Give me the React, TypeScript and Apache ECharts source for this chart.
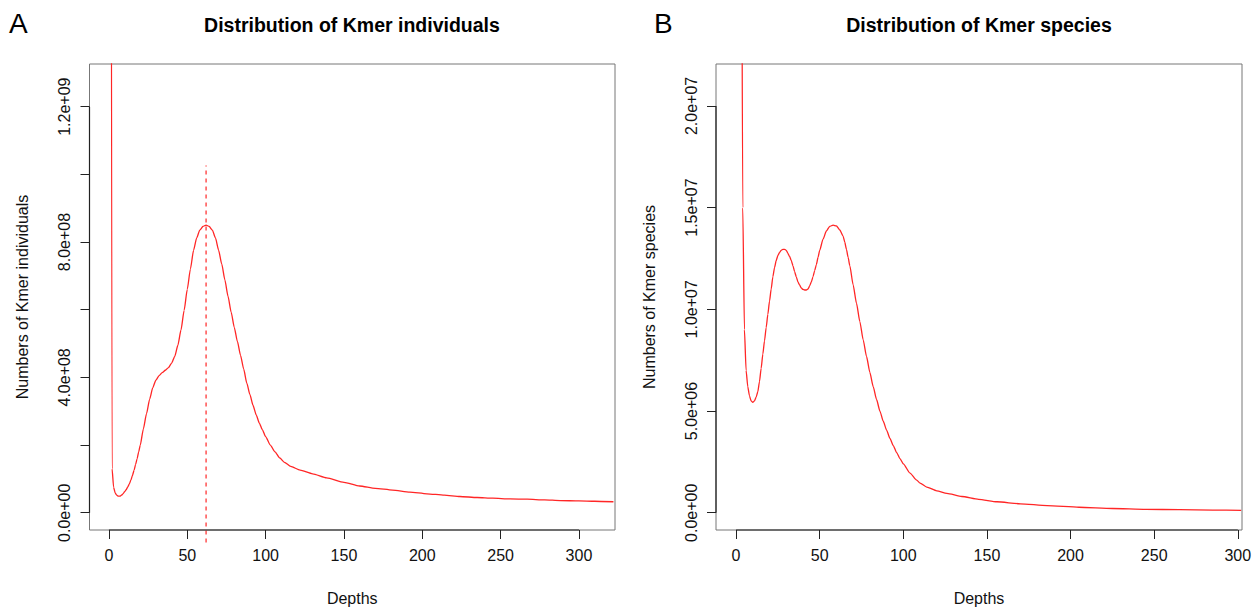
import React, { useEffect, useRef } from 'react';
import * as echarts from 'echarts';

const FONT = "'Liberation Sans', Arial, Helvetica, sans-serif";

const panelLetters = ['A', 'B'];
const titleA = 'Distribution of Kmer individuals';
const titleB = 'Distribution of Kmer species';
const xName = 'Depths';
const yNameA = 'Numbers of Kmer individuals';
const yNameB = 'Numbers of Kmer species';

const xTicks = [0, 50, 100, 150, 200, 250, 300];
const yTicksA = [0, 2e8, 4e8, 6e8, 8e8, 1e9, 1.2e9];
const yLabelsA = [0, 4e8, 8e8, 1.2e9];
const yTicksB = [0, 5e6, 1e7, 1.5e7, 2e7];
const yLabelsB = [0, 5e6, 1e7, 1.5e7, 2e7];

const xRangeA = [-12.4, 323];
const yRangeA = [-0.051e9, 1.326e9];
const xRangeB = [-12, 302.5];
const yRangeB = [-0.848e6, 22.06e6];

// [depth, number of kmer individuals (millions)]
const individuals: [number, number][] = [
  [1, 4000], [2, 130], [3, 75], [4, 58], [5, 52], [6, 49], [7, 49], [8, 52], [9, 56], [10, 62],
  [11, 68], [12, 76], [13, 85], [14, 96], [15, 110], [16, 125], [17, 142], [18, 160], [19, 180], [20, 200],
  [22, 248], [24, 293], [26, 336], [28, 370], [30, 392], [32, 405], [34, 414], [36, 421], [38, 429], [40, 442],
  [42, 462], [44, 495], [46, 540], [48, 598], [50, 660], [52, 720], [54, 775], [56, 812], [58, 835], [60, 846],
  [62, 850], [64, 846], [66, 835], [68, 812], [70, 776], [72, 735], [74, 688], [76, 640], [78, 593], [80, 548],
  [82, 506], [84, 465], [86, 425], [88, 383], [90, 349], [92, 317], [94, 289], [96, 265], [98, 245], [100, 225],
  [103, 200], [106, 180], [109, 162], [112, 149], [116, 137], [122, 126], [130, 115], [139, 103], [150, 90], [160, 79],
  [170, 72], [181, 67], [192, 61], [203, 56], [214, 52], [224, 48], [235, 45], [245, 43], [256, 41], [267, 40],
  [278, 38], [288, 36], [300, 35], [310, 34], [322, 32.5],
];

// [depth, number of kmer species (millions)]
const species: [number, number][] = [
  [1, 400], [2, 120], [3, 38], [4, 15], [5, 9.0], [6, 7.0], [7, 6.2], [8, 5.75], [9, 5.5], [10, 5.43],
  [11, 5.5], [12, 5.68], [13, 5.95], [14, 6.45], [15, 7.1], [16, 7.8], [17, 8.45], [18, 9.1], [19, 9.75], [20, 10.4],
  [21, 11.0], [22, 11.6], [23, 12.05], [24, 12.4], [25, 12.65], [26, 12.8], [27, 12.9], [28, 12.95], [29, 12.95], [30, 12.9],
  [31, 12.75], [32, 12.6], [33, 12.4], [34, 12.15], [35, 11.85], [36, 11.6], [37, 11.35], [38, 11.2], [39, 11.05], [40, 10.98],
  [41, 10.95], [42, 10.95], [43, 11.0], [44, 11.15], [45, 11.35], [46, 11.6], [47, 11.9], [48, 12.2], [49, 12.55], [50, 12.9],
  [52, 13.45], [54, 13.85], [56, 14.08], [58, 14.14], [60, 14.1], [62, 13.9], [64, 13.6], [65, 13.3], [66, 12.95], [67, 12.55],
  [68, 12.15], [70, 11.2], [72, 10.3], [74, 9.4], [76, 8.5], [78, 7.68], [80, 6.9], [82, 6.2], [84, 5.57], [86, 5.0],
  [88, 4.5], [90, 4.06], [92, 3.66], [94, 3.3], [96, 2.96], [98, 2.66], [100, 2.4], [104, 1.95], [108, 1.6], [110, 1.46],
  [114, 1.26], [120, 1.08], [126, 0.95], [135, 0.8], [145, 0.66], [156, 0.54], [170, 0.44], [186, 0.35], [205, 0.27], [225, 0.21],
  [245, 0.17], [265, 0.15], [285, 0.13], [302, 0.12],
];

const peakDepthA = 62;
const peakMarkerSpan = [-0.088e9, 1.026e9];

const fmtSci = (v: number) => v.toExponential(1).replace(/e([+-])(\d)$/, 'e$10$2');

const RED = '#ff2626';
const INK = '#111';

function App() {
  const ref = useRef<HTMLDivElement>(null);
  useEffect(() => {
    if (!ref.current) return;
    const chart = echarts.init(ref.current, null, { renderer: 'svg' });

    const xAxisFor = (grid: number, range: number[]) => ({
      gridIndex: grid,
      type: 'value',
      min: range[0],
      max: range[1],
      name: xName,
      nameLocation: 'middle',
      nameGap: 60,
      nameTextStyle: { fontSize: 16, color: INK, fontFamily: FONT },
      axisLine: { show: false, onZero: false },
      splitLine: { show: false },
      axisTick: { show: true, length: 9, customValues: xTicks, lineStyle: { color: '#222', width: 1 } },
      axisLabel: { customValues: xTicks, margin: 17, fontSize: 16, color: INK, fontFamily: FONT },
    });
    const yAxisFor = (grid: number, range: number[], ticks: number[], labels: number[], name: string) => ({
      gridIndex: grid,
      type: 'value',
      min: range[0],
      max: range[1],
      name,
      nameLocation: 'middle',
      nameRotate: 90,
      nameGap: 59,
      nameTextStyle: { fontSize: 16, color: INK, fontFamily: FONT },
      axisLine: { show: false, onZero: false },
      splitLine: { show: false },
      axisTick: { show: true, length: 9, customValues: ticks, lineStyle: { color: '#222', width: 1 } },
      axisLabel: { customValues: labels, rotate: 90, margin: 17, fontSize: 16, color: INK, fontFamily: FONT, formatter: fmtSci },
    });
    const seg = (xi: number, data: number[][], color: string, width: number, type: any = 'solid') => ({
      type: 'line',
      xAxisIndex: xi,
      yAxisIndex: xi,
      data,
      symbol: 'none',
      clip: false,
      silent: true,
      lineStyle: { color, width, type },
    });

    chart.setOption({
      animation: false,
      backgroundColor: '#fff',
      textStyle: { fontFamily: FONT },
      title: [
        { text: panelLetters[0], left: 9, top: 9, padding: 0, textStyle: { fontSize: 28, fontWeight: 'normal', color: '#000', fontFamily: FONT } },
        { text: panelLetters[1], left: 654, top: 9, padding: 0, textStyle: { fontSize: 28, fontWeight: 'normal', color: '#000', fontFamily: FONT } },
        { text: titleA, left: 352, top: 14.5, textAlign: 'center', padding: 0, textStyle: { fontSize: 19.5, fontWeight: 'bold', color: '#000', fontFamily: FONT } },
        { text: titleB, left: 979, top: 14.5, textAlign: 'center', padding: 0, textStyle: { fontSize: 19.5, fontWeight: 'bold', color: '#000', fontFamily: FONT } },
      ],
      grid: [
        { left: 89.5, top: 64, width: 525.5, height: 466, show: true, borderColor: '#777', borderWidth: 1, backgroundColor: 'transparent' },
        { left: 716, top: 64, width: 526, height: 466, show: true, borderColor: '#777', borderWidth: 1, backgroundColor: 'transparent' },
      ],
      xAxis: [xAxisFor(0, xRangeA), xAxisFor(1, xRangeB)],
      yAxis: [
        yAxisFor(0, yRangeA, yTicksA, yLabelsA, yNameA),
        yAxisFor(1, yRangeB, yTicksB, yLabelsB, yNameB),
      ],
      series: [
        {
          type: 'line', xAxisIndex: 0, yAxisIndex: 0, symbol: 'none', silent: true,
          smooth: 0.2, smoothMonotone: 'x',
          data: individuals.map(([d, v]) => [d, v * 1e6]),
          lineStyle: { color: RED, width: 1.3 },
        },
        seg(0, [[peakDepthA, peakMarkerSpan[0]], [peakDepthA, peakMarkerSpan[1]]], RED, 1.2, [4, 4]),
        seg(0, [[xTicks[0], yRangeA[0]], [xTicks[xTicks.length - 1], yRangeA[0]]], '#222', 1.2),
        seg(0, [[xRangeA[0], yTicksA[0]], [xRangeA[0], yTicksA[yTicksA.length - 1]]], '#222', 1.2),
        {
          type: 'line', xAxisIndex: 1, yAxisIndex: 1, symbol: 'none', silent: true,
          smooth: 0.2, smoothMonotone: 'x',
          data: species.map(([d, v]) => [d, v * 1e6]),
          lineStyle: { color: RED, width: 1.3 },
        },
        seg(1, [[xTicks[0], yRangeB[0]], [xTicks[xTicks.length - 1], yRangeB[0]]], '#222', 1.2),
        seg(1, [[xRangeB[0], yTicksB[0]], [xRangeB[0], yTicksB[yTicksB.length - 1]]], '#222', 1.2),
      ],
    });
    return () => chart.dispose();
  }, []);
  return <div ref={ref} style={{ position: 'absolute', left: 0, top: 0, width: 1260, height: 612 }} />;
}

export default App;
